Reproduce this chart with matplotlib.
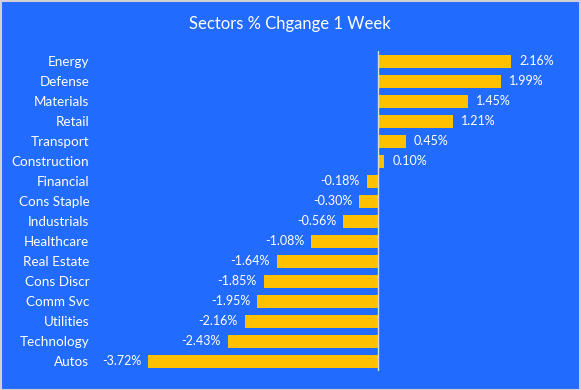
import matplotlib
matplotlib.use("Agg")
import matplotlib.pyplot as plt
from matplotlib.patches import Rectangle

sectors = ["Energy", "Defense", "Materials", "Retail", "Transport", "Construction",
           "Financial", "Cons Staple", "Industrials", "Healthcare", "Real Estate",
           "Cons Discr", "Comm Svc", "Utilities", "Technology", "Autos"]
values = [2.16, 1.99, 1.45, 1.21, 0.45, 0.10, -0.18, -0.30, -0.56, -1.08,
          -1.64, -1.85, -1.95, -2.16, -2.43, -3.72]
title = "Sectors % Chgange 1 Week"

bg = "#226BFF"
bar_color = "#FFC000"
plt.rcParams['font.family'] = ['Lato', 'DejaVu Sans']

W, H = 581, 390
fig = plt.figure(figsize=(W / 100, H / 100), dpi=100)
fig.patch.set_facecolor(bg)
fig.patches.append(Rectangle((0.5 / W, 0.5 / H), 1 - 1.5 / W, 1 - 1.5 / H, transform=fig.transFigure,
                             fill=False, edgecolor="#D0D0D0", linewidth=1.5))

xmin, xmax = -4.5, 3.0
px_per = 61.8
zero_px = 378
left_px = zero_px + xmin * px_per
right_px = zero_px + xmax * px_per
top_px, bot_px = 51.3, 371.3
ax = fig.add_axes([left_px / W, 1 - bot_px / H, (right_px - left_px) / W, (bot_px - top_px) / H])
ax.set_facecolor(bg)
for s in ax.spines.values():
    s.set_visible(False)

y = list(range(len(sectors)))
ax.barh(y, values, height=0.63, color=bar_color, zorder=2)
ax.set_ylim(len(sectors) - 0.5, -0.5)
ax.set_xlim(xmin, xmax)
ax.axvline(0, color="#D9D9D9", linewidth=1, zorder=3)
ax.set_xticks([])
ax.set_yticks(y)
ax.set_yticklabels(sectors, color="white", fontsize=9.7)
ax.tick_params(axis="y", length=0, pad=7.5)

for yi, v in zip(y, values):
    lab = f"{v:.2f}%"
    if v >= 0:
        ax.annotate(lab, (v, yi), xytext=(8, 0), textcoords="offset pixels",
                    ha="left", va="center", color="white", fontsize=9)
    else:
        ax.annotate(lab, (v, yi), xytext=(-7, 0), textcoords="offset pixels",
                    ha="right", va="center", color="white", fontsize=9)

fig.text(290 / W, 1 - 24 / H, title, ha="center", va="center", color="white", fontsize=12)

fig.savefig("out.png", dpi=100, facecolor=bg)
